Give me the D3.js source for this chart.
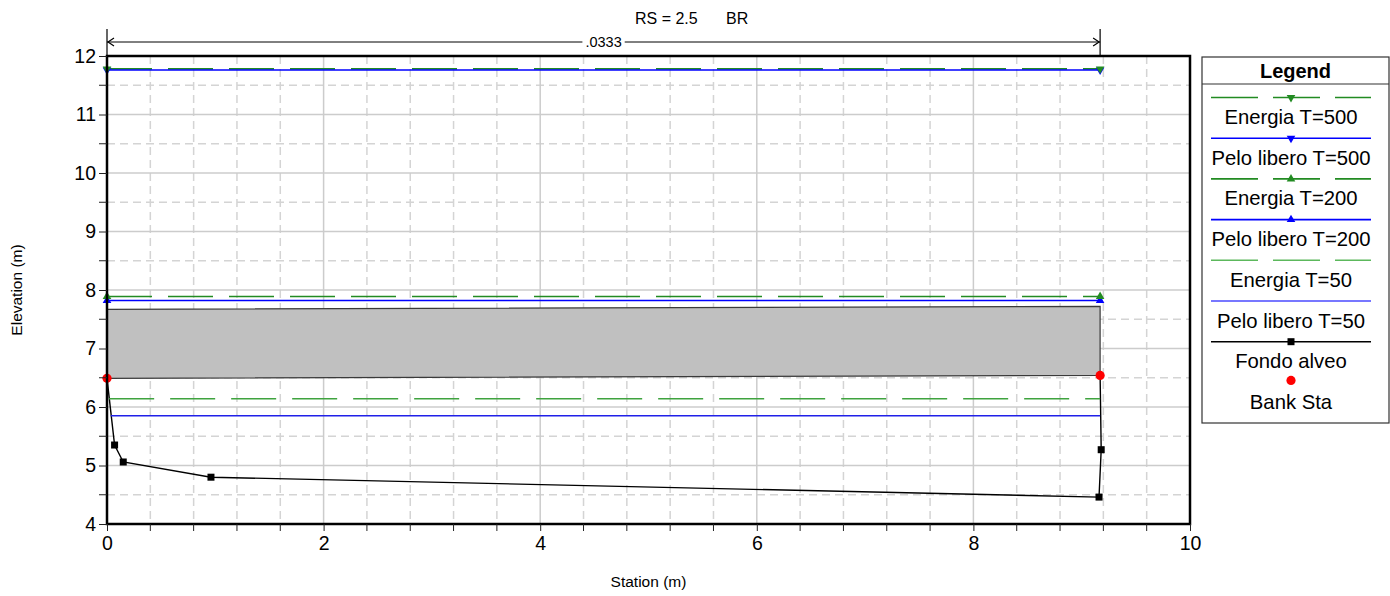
<!DOCTYPE html>
<html>
<head>
<meta charset="utf-8">
<script src="https://cdn.jsdelivr.net/npm/d3@7"></script>
<style>
  html, body { margin: 0; padding: 0; background: #fff; }
  svg { display: block; font-family: "Liberation Sans", Arial, sans-serif; }
</style>
</head>
<body>
<svg id="chart" width="1390" height="596"></svg>
<script>
// ---------------- DATA ----------------
const chartTitle = "RS = 2.5";
const chartTag = "BR";
const manningLabel = ".0333";
const manningSta = [0, 9.17];

const xTicks = [0, 2, 4, 6, 8, 10];
const yTicks = [4, 5, 6, 7, 8, 9, 10, 11, 12];

// Ground (Fondo alveo)
const groundSta  = [0, 0.07, 0.15, 0.96, 9.16, 9.18, 9.17];
const groundElev = [6.49, 5.35, 5.06, 4.80, 4.46, 5.27, 6.54];

// Bank stations
const bankSta  = [0, 9.17];
const bankElev = [6.49, 6.54];

// Bridge deck
const deckSta  = [0, 9.17];
const deckHigh = [7.67, 7.72];
const deckLow  = [6.49, 6.54];

// Water profiles
const profileNames = ["Energia T=500", "Pelo libero T=500", "Energia T=200", "Pelo libero T=200", "Energia T=50", "Pelo libero T=50"];
const profileElev  = [11.78, 11.76, 7.89, 7.82, 6.14, 5.85];
const profileStart = [0, 0, 0, 0, 0.02, 0.035];
const profileEnd   = [9.17, 9.17, 9.17, 9.17, 9.17, 9.17];

const legendNames = ["Energia T=500", "Pelo libero T=500", "Energia T=200", "Pelo libero T=200", "Energia T=50", "Pelo libero T=50", "Fondo alveo", "Bank Sta"];

// ---------------- STYLE ----------------
const styles = [
  {color: "#228b22", dash: "45,16", marker: "down", legendColor: "#228b22"},
  {color: "#0000ff", dash: null,    marker: "down", legendColor: "#0000ff"},
  {color: "#228b22", dash: "45,16", marker: "up",   legendColor: "#228b22"},
  {color: "#0000ff", dash: null,    marker: "up",   legendColor: "#0000ff"},
  {color: "#3fa33f", dash: "45,16", marker: null,   legendColor: "#5cb85c"},
  {color: "#2020e8", dash: null,    marker: null,   legendColor: "#4a4aff"}
];

const svg = d3.select("#chart");
const x = d3.scaleLinear().domain([0, 10]).range([107, 1190]);
const y = d3.scaleLinear().domain([4, 12]).range([524, 56]);

// Grid
const xMinor = d3.range(0, 10.001, 0.4).filter(v => Math.abs(v / 2 - Math.round(v / 2)) > 1e-6);
const yMinor = d3.range(4.5, 12, 1);

const grid = svg.append("g");
grid.selectAll(".gxm").data(xMinor).join("line")
  .attr("x1", d => x(d)).attr("x2", d => x(d)).attr("y1", y(12)).attr("y2", y(4))
  .attr("stroke", "#d4d4d4").attr("stroke-width", 1.5).attr("stroke-dasharray", "8,5");
grid.selectAll(".gym").data(yMinor).join("line")
  .attr("y1", d => y(d)).attr("y2", d => y(d)).attr("x1", x(0)).attr("x2", x(10))
  .attr("stroke", "#d4d4d4").attr("stroke-width", 1.5).attr("stroke-dasharray", "8,5");
grid.selectAll(".gx").data(xTicks).join("line")
  .attr("x1", d => x(d)).attr("x2", d => x(d)).attr("y1", y(12)).attr("y2", y(4))
  .attr("stroke", "#cccccc").attr("stroke-width", 1.5);
grid.selectAll(".gy").data(yTicks).join("line")
  .attr("y1", d => y(d)).attr("y2", d => y(d)).attr("x1", x(0)).attr("x2", x(10))
  .attr("stroke", "#cccccc").attr("stroke-width", 1.5);

// Deck
const deckPts = [[deckSta[0], deckLow[0]], [deckSta[0], deckHigh[0]], [deckSta[1], deckHigh[1]], [deckSta[1], deckLow[1]]];
svg.append("path")
  .attr("d", "M" + deckPts.map(p => [x(p[0]), y(p[1])].join(",")).join("L") + "Z")
  .attr("fill", "#c0c0c0").attr("stroke", "#3a3a3a").attr("stroke-width", 1.2);

// Ground
const ground = groundSta.map((s, i) => [s, groundElev[i]]);
svg.append("path")
  .attr("d", d3.line().x(d => x(d[0])).y(d => y(d[1]))(ground))
  .attr("fill", "none").attr("stroke", "#000").attr("stroke-width", 1.4);
svg.selectAll(".gsq").data(ground.slice(1, -1)).join("rect")
  .attr("x", d => x(d[0]) - 3.5).attr("y", d => y(d[1]) - 3.5)
  .attr("width", 7).attr("height", 7).attr("fill", "#000");

// Water lines
profileNames.forEach((n, i) => {
  const st = styles[i];
  svg.append("line")
    .attr("x1", x(profileStart[i])).attr("x2", x(profileEnd[i]))
    .attr("y1", y(profileElev[i])).attr("y2", y(profileElev[i]))
    .attr("stroke", st.color).attr("stroke-width", 1.6)
    .attr("stroke-dasharray", st.dash);
});
const tri = d3.symbol().type(d3.symbolTriangle).size(32);
for (let i = profileNames.length - 1; i >= 0; i--) {
  const st = styles[i];
  if (!st.marker) continue;
  [profileStart[i], profileEnd[i]].forEach(s => {
    svg.append("path").attr("d", tri())
      .attr("transform", `translate(${x(s)},${y(profileElev[i])}) rotate(${st.marker === "down" ? 180 : 0})`)
      .attr("fill", st.color);
  });
}

// Bank stations
svg.selectAll(".bank").data(bankSta.map((s, i) => [s, bankElev[i]])).join("circle")
  .attr("cx", d => x(d[0])).attr("cy", d => y(d[1])).attr("r", 4.6).attr("fill", "#ff0000");

// Frame
svg.append("rect").attr("x", x(0)).attr("y", y(12)).attr("width", x(10) - x(0)).attr("height", y(4) - y(12))
  .attr("fill", "none").attr("stroke", "#000").attr("stroke-width", 2.5);

// Axes
const yAxis = d3.axisLeft(y).tickValues(yTicks).tickSize(8).tickPadding(3).tickFormat(d3.format("d"));
const gy = svg.append("g").attr("transform", `translate(${x(0)},0)`).call(yAxis);
gy.select(".domain").remove();
gy.selectAll("text").attr("font-size", 19.5).attr("font-family", "'Liberation Sans', Arial, sans-serif").attr("fill", "#000");
gy.selectAll(".tick line").attr("stroke", "#222");
svg.append("g").selectAll("line").data(yMinor).join("line")
  .attr("x1", x(0) - 8).attr("x2", x(0)).attr("y1", d => y(d)).attr("y2", d => y(d)).attr("stroke", "#222");

const xAxis = d3.axisBottom(x).tickValues(xTicks).tickSize(7).tickPadding(5).tickFormat(d3.format("d"));
const gx = svg.append("g").attr("transform", `translate(0,${y(4)})`).call(xAxis);
gx.select(".domain").remove();
gx.selectAll("text").attr("font-size", 19.5).attr("font-family", "'Liberation Sans', Arial, sans-serif").attr("fill", "#000");
gx.selectAll(".tick line").attr("stroke", "#222");
svg.append("g").selectAll("line").data(xMinor).join("line")
  .attr("x1", d => x(d)).attr("x2", d => x(d)).attr("y1", y(4)).attr("y2", y(4) + 7).attr("stroke", "#222");

// Axis titles
svg.append("text").attr("x", (x(0) + x(10)) / 2).attr("y", 587).attr("text-anchor", "middle")
  .attr("font-size", 15.5).text("Station (m)");
svg.append("text").attr("transform", `translate(22,${(y(4) + y(12)) / 2}) rotate(-90)`).attr("text-anchor", "middle")
  .attr("font-size", 15.5).text("Elevation (m)");

// Title
svg.append("text").attr("x", 635).attr("y", 24).attr("font-size", 16).text(chartTitle);
svg.append("text").attr("x", 726).attr("y", 24).attr("font-size", 16).text(chartTag);

// Manning dimension line
const dY = 42;
const mx0 = x(manningSta[0]), mx1 = x(manningSta[1]);
svg.append("line").attr("x1", mx0).attr("x2", mx1).attr("y1", dY).attr("y2", dY).attr("stroke", "#000").attr("stroke-width", 1);
[mx0, mx1].forEach(v => svg.append("line").attr("x1", v).attr("x2", v).attr("y1", 29).attr("y2", y(12)).attr("stroke", "#000").attr("stroke-width", 1.2));
svg.append("path").attr("d", `M${mx0 + 7},${dY - 4}L${mx0 + 1},${dY}L${mx0 + 7},${dY + 4}`).attr("fill", "none").attr("stroke", "#000").attr("stroke-width", 1.2);
svg.append("path").attr("d", `M${mx1 - 7},${dY - 4}L${mx1 - 1},${dY}L${mx1 - 7},${dY + 4}`).attr("fill", "none").attr("stroke", "#000").attr("stroke-width", 1.2);
const labBg = svg.append("rect").attr("fill", "#fff");
const mLab = svg.append("text").attr("x", (mx0 + mx1) / 2).attr("y", dY + 5).attr("text-anchor", "middle")
  .attr("font-size", 14.5).text(manningLabel);
const bb = mLab.node().getBBox();
labBg.attr("x", bb.x - 3).attr("y", dY - 2).attr("width", bb.width + 6).attr("height", 4);

// Legend
const lg = svg.append("g");
lg.append("rect").attr("x", 1202).attr("y", 57).attr("width", 187).attr("height", 366)
  .attr("fill", "#fff").attr("stroke", "#333").attr("stroke-width", 1.2);
lg.append("line").attr("x1", 1202).attr("x2", 1389).attr("y1", 84).attr("y2", 84).attr("stroke", "#333").attr("stroke-width", 1.2);
lg.append("text").attr("x", 1295.5).attr("y", 77.5).attr("text-anchor", "middle").attr("font-size", 20)
  .attr("font-weight", "bold").text("Legend");
const lcx = 1291, lx0 = 1211, lx1 = 1371;
legendNames.forEach((n, k) => {
  const ly = 97.5 + 40.7 * k;
  if (k < 6) {
    const st = styles[k];
    lg.append("line").attr("x1", lx0).attr("x2", lx1).attr("y1", ly).attr("y2", ly)
      .attr("stroke", st.legendColor).attr("stroke-width", 1.6).attr("stroke-dasharray", st.dash ? "47,15" : null);
    if (st.marker) {
      lg.append("path").attr("d", tri()).attr("fill", st.color)
        .attr("transform", `translate(${lcx},${ly}) rotate(${st.marker === "down" ? 180 : 0})`);
    }
  } else if (k === 6) {
    lg.append("line").attr("x1", lx0).attr("x2", lx1).attr("y1", ly).attr("y2", ly).attr("stroke", "#000").attr("stroke-width", 1.4);
    lg.append("rect").attr("x", lcx - 3.5).attr("y", ly - 3.5).attr("width", 7).attr("height", 7).attr("fill", "#000");
  } else {
    lg.append("circle").attr("cx", lcx).attr("cy", ly - 2).attr("r", 4.6).attr("fill", "#ff0000");
  }
  lg.append("text").attr("x", lcx).attr("y", ly + 26.5).attr("text-anchor", "middle").attr("font-size", 20.3).text(n);
});
</script>
</body>
</html>
